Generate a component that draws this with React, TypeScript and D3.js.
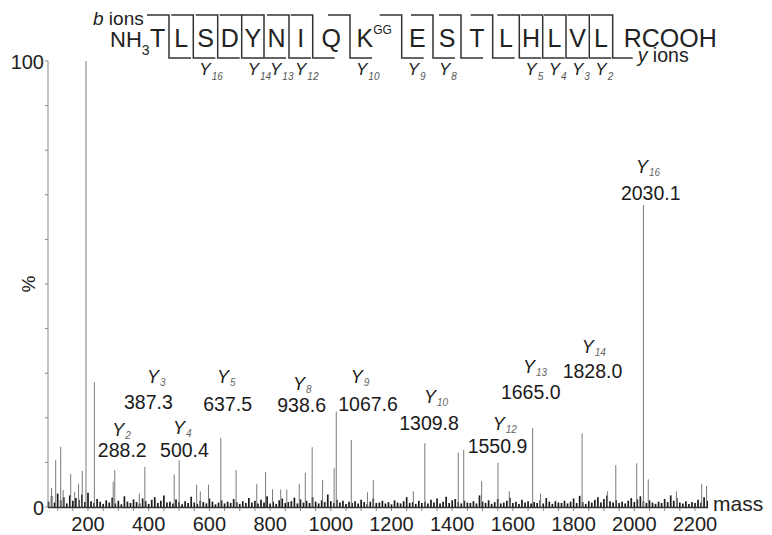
import React, { useEffect, useRef } from 'react';
import * as d3 from 'd3';

// spectrum peaks: [mass, relative intensity %]
const peaks: [number, number][] = [
  [80, 4.3], [93.5, 10.5], [110, 13.5], [118, 3.8], [143, 7.4], [156, 3.4], [169, 5.2], [181, 8.1],
  [193.4, 100], [221, 28], [283, 5.7], [288.2, 8.3], [369, 3], [387.3, 9], [484, 7.3], [500.4, 10.5],
  [558, 5], [570, 3.5], [597, 5], [637.5, 15.5], [688, 8.3], [756, 5.2], [785, 7.9], [808, 4],
  [835, 3.9], [855, 3.9], [896, 5.2], [916, 7.7], [938.6, 13.4], [973, 6.1], [1011, 8.7], [1018, 21.4],
  [1067.6, 15], [1121, 3.3], [1140, 6], [1272, 3.5], [1309.8, 14.3], [1420, 12.2], [1438, 12.8],
  [1497, 5.8], [1550.9, 9.9], [1588, 3.5], [1665, 17.7], [1691, 3], [1828, 16.5], [1912, 3.5],
  [1939, 9.4], [2008, 9.8], [2030.1, 67.7], [2046, 6.2], [2139, 3.5], [2222, 5.2], [2238, 4.7]
];

// background noise, one value every 10 mass units from 70
const noiseStart = 70;
const noiseLevels = [
  1.2, 2.5, 1.0, 3.0, 1.5, 2.2, 0.8, 2.6, 1.4, 2.0,
  1.6, 2.8, 1.1, 3.2, 1.3, 0.9, 1.8, 1.2, 0.7, 1.5,
  1.0, 2.1, 0.8, 1.4, 0.6, 2.4, 1.2, 0.9, 1.7, 1.1,
  0.8, 1.9, 1.3, 0.7, 1.6, 2.2, 0.9, 1.4, 2.6, 1.0,
  1.2, 0.8, 1.7, 1.1, 0.6, 1.3, 0.9, 2.3, 1.0, 0.7,
  1.4, 1.1, 0.8, 1.9, 1.2, 0.6, 1.0, 1.5, 0.8, 1.2,
  0.9, 1.8, 1.1, 0.7, 1.3, 0.9, 2.0, 1.0, 1.4, 0.8,
  1.6, 1.0, 2.4, 0.8, 1.2, 0.7, 1.5, 1.9, 0.9, 1.1,
  1.3, 2.1, 0.8, 1.7, 1.0, 1.4, 0.9, 2.2, 1.2, 0.8,
  1.5, 1.1, 2.8, 1.3, 0.9, 1.6, 1.0, 1.4, 0.7, 1.2,
  0.9, 1.3, 0.8, 1.6, 1.1, 0.7, 1.2, 1.9, 0.9, 1.0,
  1.4, 0.8, 1.1, 0.6, 1.5, 1.0, 0.8, 1.3, 2.2, 0.9,
  1.1, 0.7, 1.4, 0.9, 1.2, 0.8, 1.6, 1.0, 1.9, 0.8,
  1.2, 2.3, 0.9, 1.5, 1.8, 1.1, 0.8, 1.4, 1.0, 0.9,
  1.3, 0.8, 2.6, 1.2, 0.9, 1.5, 0.7, 1.1, 1.8, 0.8,
  1.0, 1.4, 2.1, 0.9, 1.2, 0.7, 1.6, 1.0, 1.3, 0.8,
  1.1, 0.9, 1.5, 0.8, 2.0, 1.2, 0.7, 1.3, 1.0, 0.9,
  1.4, 0.8, 1.2, 1.9, 0.9, 2.5, 1.1, 0.7, 1.3, 1.0,
  1.6, 2.2, 1.0, 1.8, 2.6, 1.3, 1.0, 1.5, 0.9, 1.2,
  0.8, 1.4, 2.0, 1.1, 1.7, 2.4, 1.3, 0.9, 1.5, 1.0,
  0.7, 1.2, 0.9, 1.8, 1.1, 2.6, 1.4, 2.0, 1.0, 0.8,
  1.3, 0.7, 1.1, 0.9, 1.6, 1.0, 2.2, 1.4
];

// annotated y ions
const ionNumbers = ['2', '3', '4', '5', '8', '9', '10', '12', '13', '14', '16'];
const ionMasses = [288.2, 387.3, 500.4, 637.5, 938.6, 1067.6, 1309.8, 1550.9, 1665.0, 1828.0, 2030.1];

const xTicks = [200, 400, 600, 800, 1000, 1200, 1400, 1600, 1800, 2000, 2200];
const yTickLabels = [0, 100];

// peptide
const residues = ['T', 'L', 'S', 'D', 'Y', 'N', 'I', 'Q', 'K', 'E', 'S', 'T', 'L', 'H', 'L', 'V', 'L', 'R'];
const modifiedResidue = 8; // K carries GG
const yLabelSites = [16, 14, 13, 12, 10, 9, 8, 5, 4, 3, 2];

// layout (pixels) for the ion labels: text centre offset, baseline, Y offset and rise
const labelPlacement = [
  { dx: 7.5, y: 457, ydx: -10, ydy: -21 },
  { dx: 3.5, y: 409, ydx: -1.3, ydy: -26 },
  { dx: 5.3, y: 457, ydx: -11.5, ydy: -23 },
  { dx: 6.9, y: 410.7, ydx: -10.7, ydy: -27.7 },
  { dx: -10.5, y: 411.7, ydx: -8.7, ydy: -21.7 },
  { dx: 16.7, y: 410.7, ydx: -17.3, ydy: -27.7 },
  { dx: 4.2, y: 430, ydx: -5, ydy: -27 },
  { dx: -0.5, y: 453.3, ydx: -4.8, ydy: -23.3 },
  { dx: -1.9, y: 399.3, ydx: -7.7, ydy: -26 },
  { dx: 10.4, y: 378.3, ydx: -10.8, ydy: -25 },
  { dx: 7.3, y: 200, ydx: -14.7, ydy: -26.7 }
];
// widths of residue slots L..L between cleavage bars
const slotWidths = [24.3, 24.4, 24, 22.3, 25, 23.7, 37.3, 51.7, 31.3, 28, 31.7, 26.6, 23.4, 23.3, 23.3, 23.4];
const hookLength = 22;

const FONT = '"Liberation Sans", Arial, sans-serif';

export default function App() {
  const svgRef = useRef<SVGSVGElement>(null);

  useEffect(() => {
    document.body.style.margin = '0';
    const svg = d3.select(svgRef.current);
    svg.selectAll('*').remove();

    const x = d3.scaleLinear().domain([200, 2200]).range([88, 695]);
    const y = d3.scaleLinear().domain([0, 100]).range([507, 61]);
    const axisX = 48;
    const massEnd = 2243;

    const g = svg.append('g').style('font-family', FONT);

    // noise floor
    g.append('g')
      .selectAll('line')
      .data(noiseLevels)
      .join('line')
      .attr('x1', (d, i) => x(noiseStart + i * 10))
      .attr('x2', (d, i) => x(noiseStart + i * 10))
      .attr('y1', y(0))
      .attr('y2', d => y(d))
      .attr('stroke', '#1a1a1a')
      .attr('stroke-width', 1.7);

    // peaks
    g.append('g')
      .selectAll('line')
      .data(peaks)
      .join('line')
      .attr('x1', d => x(d[0]))
      .attr('x2', d => x(d[0]))
      .attr('y1', y(0))
      .attr('y2', d => y(d[1]))
      .attr('stroke', '#7a7a7a')
      .attr('stroke-width', 1);

    // baseline
    g.append('line')
      .attr('x1', axisX).attr('x2', x(massEnd))
      .attr('y1', y(0) + 0.5).attr('y2', y(0) + 0.5)
      .attr('stroke', '#333').attr('stroke-width', 1.5);

    // y axis
    g.append('line')
      .attr('x1', axisX).attr('x2', axisX)
      .attr('y1', y(0)).attr('y2', y(100))
      .attr('stroke', '#888').attr('stroke-width', 1);
    g.append('g')
      .selectAll('line')
      .data(d3.range(0, 101, 10))
      .join('line')
      .attr('x1', axisX - 3).attr('x2', axisX)
      .attr('y1', d => y(d)).attr('y2', d => y(d))
      .attr('stroke', '#888');
    g.append('g')
      .selectAll('text')
      .data(yTickLabels)
      .join('text')
      .attr('x', axisX - 4)
      .attr('y', d => y(d) + 8)
      .attr('text-anchor', 'end')
      .style('font-size', '20px')
      .style('fill', '#222')
      .text(d => d);
    g.append('text')
      .attr('transform', `translate(35,${y(50)}) rotate(-90)`)
      .attr('text-anchor', 'middle')
      .style('font-size', '19px')
      .style('fill', '#222')
      .text('%');

    // x axis ticks and labels
    g.append('g')
      .selectAll('line')
      .data(d3.range(100, 2250, 50))
      .join('line')
      .attr('x1', d => x(d)).attr('x2', d => x(d))
      .attr('y1', y(0) + 1).attr('y2', y(0) + 4)
      .attr('stroke', '#888');
    g.append('g')
      .selectAll('text')
      .data(xTicks)
      .join('text')
      .attr('x', d => x(d))
      .attr('y', 531)
      .attr('text-anchor', 'middle')
      .style('font-size', '20px')
      .style('fill', '#222')
      .text(d => d);
    g.append('text')
      .attr('x', x(massEnd) + 5)
      .attr('y', 511)
      .style('font-size', '21px')
      .style('fill', '#222')
      .text('mass');

    // ion labels
    ionMasses.forEach((m, i) => {
      const p = labelPlacement[i];
      const cx = x(m) + p.dx;
      g.append('text')
        .attr('x', cx).attr('y', p.y)
        .attr('text-anchor', 'middle')
        .style('font-size', '19.5px')
        .style('fill', '#1a1a1a')
        .text(m.toFixed(1));
      const t = g.append('text')
        .attr('x', cx + p.ydx).attr('y', p.y + p.ydy)
        .style('font-size', '18px')
        .style('font-style', 'italic')
        .style('fill', '#1a1a1a');
      t.append('tspan').text('Y');
      t.append('tspan')
        .attr('dy', 3).attr('dx', 1)
        .style('font-size', '10px')
        .style('fill', '#666')
        .text(ionNumbers[i]);
    });

    // peptide fragmentation diagram
    const pep = svg.append('g').style('font-family', FONT);
    const topY = 15;
    const botY = 58;
    const letterY = 47;
    const bars = [169];
    slotWidths.forEach(w => bars.push(bars[bars.length - 1] + w));
    const lineColor = '#333';

    pep.append('text')
      .attr('x', 93).attr('y', 25)
      .style('font-size', '19px').style('fill', '#222')
      .call(t => {
        t.append('tspan').style('font-style', 'italic').text('b');
        t.append('tspan').text(' ions');
      });
    pep.append('text')
      .attr('x', 110).attr('y', letterY)
      .style('font-size', '22px').style('fill', '#222')
      .call(t => {
        t.append('tspan').text('NH');
        t.append('tspan').attr('dy', 8).style('font-size', '14px').text('3');
      });
    pep.append('text')
      .attr('x', 150).attr('y', letterY)
      .style('font-size', '25px').style('fill', '#222')
      .text(residues[0]);

    residues.slice(1, -1).forEach((r, k) => {
      const left = bars[k];
      const right = bars[k + 1];
      const idx = k + 1;
      if (idx === modifiedResidue) {
        const t = pep.append('text')
          .attr('x', left + 6.5).attr('y', letterY)
          .style('font-size', '25px').style('fill', '#222');
        t.append('tspan').text(r);
        t.append('tspan').attr('dy', -13).style('font-size', '12px').text('GG');
      } else {
        pep.append('text')
          .attr('x', (left + right) / 2).attr('y', letterY)
          .attr('text-anchor', 'middle')
          .style('font-size', '25px').style('fill', '#222')
          .text(r);
      }
    });
    pep.append('text')
      .attr('x', bars[bars.length - 1] + 11).attr('y', letterY)
      .style('font-size', '25px').style('fill', '#222')
      .text(residues[residues.length - 1] + 'COOH');

    bars.forEach((bx, i) => {
      const yNum = residues.length - (i + 1);
      const leftGap = i === 0 ? hookLength : bx - bars[i - 1];
      const rightGap = i === bars.length - 1 ? 20 : bars[i + 1] - bx;
      // b-type hook (top, pointing to N-terminus), bar, y-type hook (bottom, to C-terminus)
      pep.append('path')
        .attr('d', `M${bx - Math.min(hookLength, leftGap)},${topY}H${bx}V${botY}H${bx + Math.min(hookLength, rightGap)}`)
        .attr('fill', 'none')
        .attr('stroke', lineColor)
        .attr('stroke-width', 1.5);
      if (yLabelSites.includes(yNum)) {
        const t = pep.append('text')
          .attr('x', bx + 6).attr('y', 75)
          .style('font-size', '17px').style('font-style', 'italic').style('fill', '#222');
        t.append('tspan').text('Y');
        t.append('tspan').attr('dy', 5).attr('dx', 1)
          .style('font-size', '10px').style('fill', '#555').text(String(yNum));
      }
    });
    pep.append('text')
      .attr('x', bars[bars.length - 1] + 25).attr('y', 62)
      .style('font-size', '19.5px').style('fill', '#222')
      .call(t => {
        t.append('tspan').style('font-style', 'italic').text('y');
        t.append('tspan').text(' ions');
      });
  }, []);

  return <svg ref={svgRef} width={772} height={535} style={{ display: 'block', background: '#fff' }} />;
}
